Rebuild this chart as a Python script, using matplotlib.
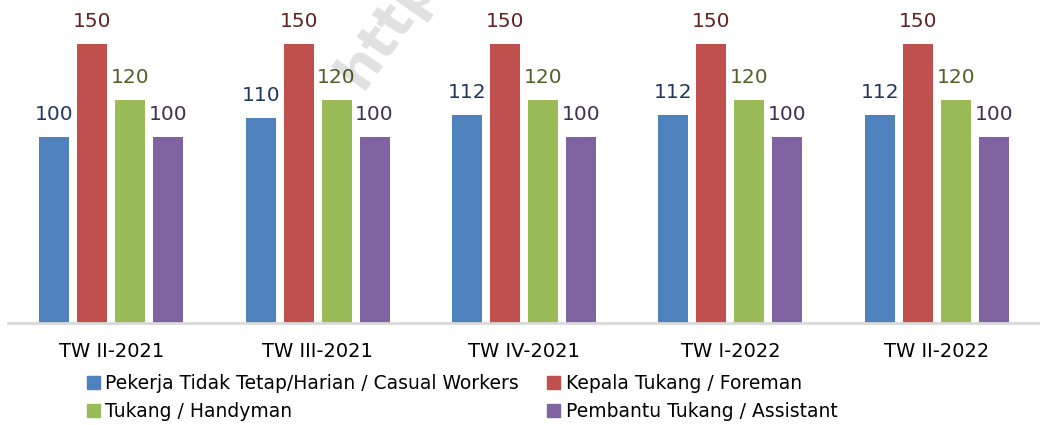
import matplotlib
matplotlib.use("Agg")
import matplotlib.pyplot as plt
import matplotlib.patches as mpatches
import numpy as np

# data
categories = ["TW II-2021", "TW III-2021", "TW IV-2021", "TW I-2022", "TW II-2022"]
casual = [100, 110, 112, 112, 112]
foreman = [150, 150, 150, 150, 150]
handyman = [120, 120, 120, 120, 120]
assistant = [100, 100, 100, 100, 100]

names = ["Pekerja Tidak Tetap/Harian / Casual Workers",
         "Kepala Tukang / Foreman",
         "Tukang / Handyman",
         "Pembantu Tukang / Assistant"]
series = [casual, foreman, handyman, assistant]
colors = ["#4F81BD", "#C0504D", "#9BBB59", "#8064A2"]
label_colors = ["#1F3864", "#632523", "#4F6228", "#3F3151"]

fig = plt.figure(figsize=(10.4, 4.25), dpi=100)
ax = fig.add_axes([0.0077, 0.24, 0.9923, 0.76])

x = np.arange(len(categories))
width = 0.145
step = 0.184
for i, (vals, c, lc) in enumerate(zip(series, colors, label_colors)):
    pos = x + (i - 1.5) * step
    bars = ax.bar(pos, vals, width, color=c, zorder=2)
    for b, v in zip(bars, vals):
        ax.text(b.get_x() + b.get_width() / 2, v + 7, str(v), ha="center",
                va="bottom", fontsize=14.5, color=lc)

ax.set_xlim(-0.5, len(categories) - 0.5)
ax.set_ylim(0, 173.6)
ax.set_yticks([])
ax.set_xticks(x)
ax.set_xticklabels(categories, fontsize=14)
ax.tick_params(axis="x", length=0, pad=14)
for s in ["top", "right", "left"]:
    ax.spines[s].set_visible(False)
ax.spines["bottom"].set_color("#d9d9d9")
ax.spines["bottom"].set_linewidth(2)

# watermark
fig.text(0.315, 0.77, "https", rotation=55, fontsize=40, fontweight="bold",
         color="#000000", alpha=0.12, ha="left", va="bottom", zorder=5)

handles = [mpatches.Patch(color=c) for c in colors]
order = [0, 2, 1, 3]
fig.legend([handles[i] for i in order], [names[i] for i in order],
           ncol=2, loc="lower left", bbox_to_anchor=(0.067, -0.03),
           frameon=False, fontsize=13.5, handlelength=0.7, handleheight=0.7,
           handletextpad=0.3, columnspacing=1.5, labelspacing=0.45)

fig.savefig("out.png", dpi=100)
